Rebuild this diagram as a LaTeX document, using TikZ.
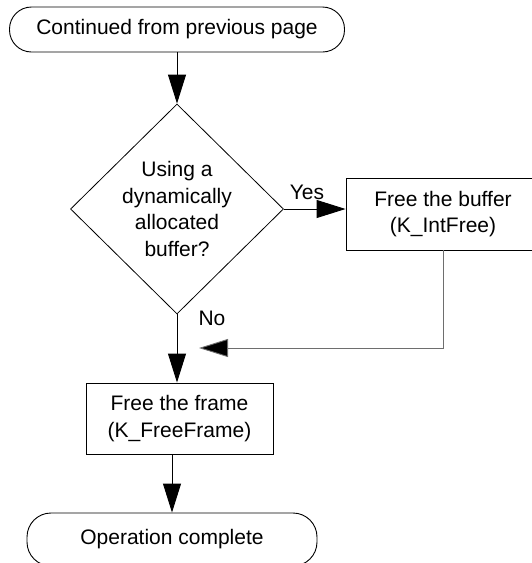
\documentclass[tikz,border=0pt]{standalone}
\usepackage{fontspec}
\setmainfont{Liberation Sans}
\usepackage{tikz}
\usetikzlibrary{shapes.geometric, arrows.meta, positioning, calc}
\definecolor{FlowBlack}{HTML}{000000}
\definecolor{FlowGray}{HTML}{6E6E6E}
\tikzset{
    % Node styles
    terminalbox/.style={
        rectangle,
        rounded corners=22pt,
        draw=FlowBlack,
        line width=0.9pt,
        minimum height=45pt,
        text centered,
        font=\fontsize{21}{26.7}\selectfont
    },
    processbox/.style={
        rectangle,
        draw=FlowBlack,
        line width=0.9pt,
        minimum height=72pt,
        align=center,
        font=\fontsize{21}{26.7}\selectfont
    },
    decisionbox/.style={
        diamond,
        draw=FlowBlack,
        line width=0.8pt,
        aspect=1,
        inner sep=-2pt,
        minimum width=213pt,
        minimum height=210pt,
        align=center,
        font=\fontsize{21}{26.7}\selectfont
    },
    labeltext/.style={
        font=\fontsize{21}{26.7}\selectfont
    },
    % Arrow styles
    flowarrow/.style={
        -{Triangle[length=29pt,width=18pt]},
        line width=0.9pt,
        FlowBlack
    },
    backarrow/.style={
        -{Triangle[length=29pt,width=18pt,fill=FlowBlack]},
        line width=0.9pt,
        FlowGray
    }
}

\begin{document}
\begin{tikzpicture}[x=1pt, y=-1pt]
    \clip (0,0) rectangle (532,563);

    % Start
    \node[terminalbox, minimum width=335pt] (start) at (177,29.5) {Continued from previous page};

    % Decision
    \node[decisionbox] (check) at (177,209) {Using a\\dynamically\\allocated\\buffer?};

    % Branches
    \node[processbox, minimum width=194pt] (freebuf) at (443,214) {Free the buffer\\(K\_IntFree)};
    \node[processbox, minimum width=187pt, minimum height=71pt] (freeframe) at (179.5,418.5) {Free the frame\\(K\_FreeFrame)};

    % End
    \node[terminalbox, minimum width=290pt, minimum height=53pt, rounded corners=24pt] (done) at (172,539.5) {Operation complete};

    % Labels
    \node[labeltext] (yes) at (307,192) {Yes};
    \node[labeltext] (no) at (212,318) {No};

    % Merge point
    \coordinate (merge) at (199,348);

    % Connectors
    \draw[flowarrow] (start) -- (check);
    \draw[flowarrow] (check.east) -- (check.east -| freebuf.west);
    \draw[flowarrow] (check.south) -- (check.south |- freeframe.north);
    \draw[backarrow] (freebuf.south) |- (merge);
    \draw[flowarrow] (done.north |- freeframe.south) -- (done.north);
\end{tikzpicture}
\end{document}
